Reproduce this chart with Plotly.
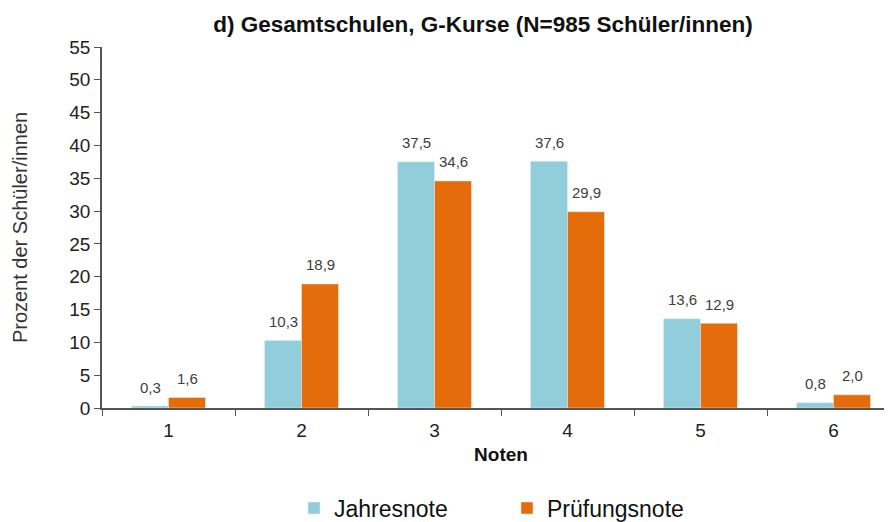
import plotly.graph_objects as go

noten = ["1", "2", "3", "4", "5", "6"]
jahresnote = [0.3, 10.3, 37.5, 37.6, 13.6, 0.8]
pruefungsnote = [1.6, 18.9, 34.6, 29.9, 12.9, 2.0]

fig = go.Figure()
fig.add_trace(go.Bar(x=noten, y=jahresnote, name="Jahresnote", marker_color="#92CDDC"))
fig.add_trace(go.Bar(x=noten, y=pruefungsnote, name="Prüfungsnote", marker_color="#E46C0A"))

# value labels sit a bit higher above the bars than plotly's "outside" text
# (x given as category index, since "1".."6" would be read as numbers)
for values, shift in [(jahresnote, -18.5), (pruefungsnote, 18.5)]:
    for i, val in enumerate(values):
        fig.add_annotation(
            x=i, y=val, text=f"{val:.1f}".replace(".", ","),
            showarrow=False, xshift=shift, yshift=19, yanchor="middle",
            font=dict(size=15, color="#404040"),
        )

# page has an 8px body margin, so margins are shifted by that;
# the original plot area runs off the right edge
fig.update_layout(
    width=892, height=522,
    font=dict(family="Liberation Sans, Arial", color="#222222"),
    title=dict(text="<b>d) Gesamtschulen, G-Kurse (N=985 Schüler/innen)</b>",
               x=0.5325, xanchor="center", y=0.97, yanchor="middle",
               font=dict(size=22.5, color="#111111")),
    plot_bgcolor="white", paper_bgcolor="white",
    margin=dict(l=94, r=0, t=39, b=122),
    barmode="group", bargap=0.444, bargroupgap=0,
    showlegend=True,
    legend=dict(orientation="h", x=0.2406, xanchor="left",
                yref="container", y=0.042, yanchor="middle",
                font=dict(size=23, color="#111111"),
                entrywidth=168, entrywidthmode="pixels"),
)
fig.update_xaxes(
    type="category",
    title=dict(text="<b>Noten</b>", font=dict(size=19, color="#111111"), standoff=8),
    tickfont=dict(size=19, color="#222222"), ticklabelstandoff=4,
    showline=True, linecolor="#555555", linewidth=1.5,
    ticks="outside", ticklen=6, tickcolor="#555555", tickson="boundaries",
    automargin=False,
)
fig.update_yaxes(
    title=dict(text="Prozent der Schüler/innen", font=dict(size=20, color="#333333"), standoff=36),
    range=[0, 55], dtick=5, tickfont=dict(size=19, color="#222222"),
    showline=True, linecolor="#555555", linewidth=1.5,
    ticks="outside", ticklen=6, tickcolor="#555555",
    showgrid=False, zeroline=False, automargin=False,
)

fig.write_html("out.html")
